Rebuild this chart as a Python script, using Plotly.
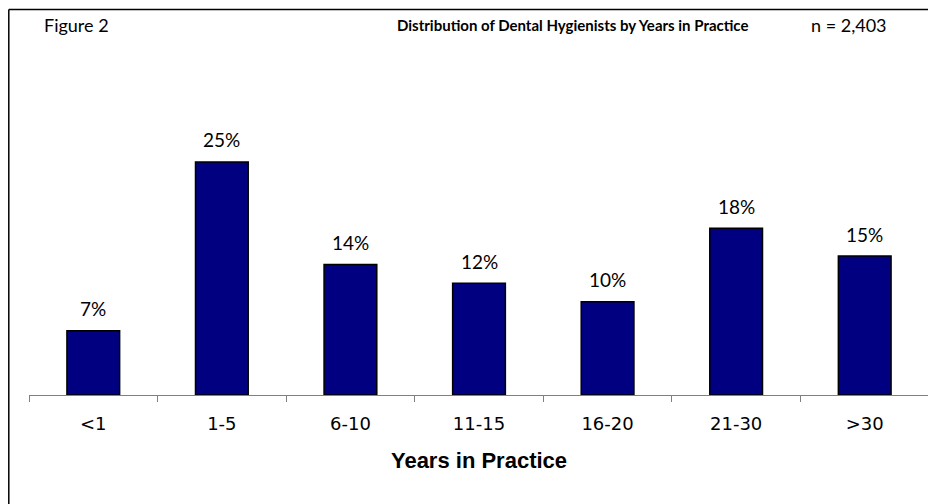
"""Distribution of dental hygienists by years in practice (Figure 2)."""
import plotly.graph_objects as go

categories = ["<1", "1-5", "6-10", "11-15", "16-20", "21-30", ">30"]
shares = [6.9, 25.0, 14.0, 12.0, 10.0, 17.9, 14.9]
labels = ["7%", "25%", "14%", "12%", "10%", "18%", "15%"]

BAR = "#000080"
OFF = 8  # page body margin: figure is drawn 8px in from the window corner
W, H = 936 - OFF, 504 - OFF
# plot area in figure pixels
L, R, B = 29 - OFF, 929 - OFF, 395 - OFF
YMAX = 28.0
PX_PER = 9.31
T = B - YMAX * PX_PER


def px_x(p):
    # window pixel -> paper coordinate
    return (p - OFF - L) / (R - L)


def px_y(p):
    return (B - (p - OFF)) / (B - T)


fig = go.Figure()
fig.add_bar(x=categories, y=shares, width=0.41,
            marker=dict(color=BAR, line=dict(color="black", width=1.5)),
            hoverinfo="skip")

for c, v, t in zip(categories, shares, labels):
    fig.add_annotation(x=c, y=v, text=t, showarrow=False, yshift=22,
                       font=dict(family="Lato, Noto Sans", size=19, color="black"))

# frame around the figure: only its left and top edges are in view
frame = dict(type="line", xref="paper", yref="paper", line=dict(color="black", width=1.5))
fig.add_shape(x0=px_x(8.8), x1=px_x(8.8), y0=px_y(520), y1=px_y(10), **frame)
fig.add_shape(x0=px_x(8.8), x1=px_x(950), y0=px_y(10), y1=px_y(10), **frame)

head = dict(xref="paper", yref="paper", y=px_y(25), yanchor="middle", showarrow=False)
fig.add_annotation(x=px_x(42), xanchor="left", text="Figure 2",
                   font=dict(family="Lato, Noto Sans", size=18, color="black"), **head)
fig.add_annotation(x=px_x(572), xanchor="center",
                   text="<b>Distribution of Dental Hygienists by Years in Practice</b>",
                   font=dict(family="Lato, Noto Sans", size=15, color="black"), **head)
fig.add_annotation(x=px_x(889), xanchor="right", text="n = 2,403",
                   font=dict(family="Lato, Noto Sans", size=18, color="black"), **head)

fig.update_layout(
    width=W, height=H, plot_bgcolor="white", paper_bgcolor="white",
    margin=dict(l=L, r=W - R, t=T, b=H - B, pad=0),
    showlegend=False, bargap=0.59,
)
fig.update_xaxes(showline=True, linecolor="#808080", linewidth=1, showgrid=False,
                 zeroline=False,
                 ticks="outside", tickson="boundaries", ticklen=6, tickcolor="#808080",
                 ticklabelstandoff=12,
                 tickfont=dict(family="DejaVu Sans", size=18, color="black"),
                 title=dict(text="<b>Years in Practice</b>", standoff=20,
                            font=dict(family="Liberation Sans", size=22, color="black")),
                 range=[-0.5, 6.5])
fig.update_yaxes(visible=False, showgrid=False, zeroline=False, range=[0, YMAX])

fig.write_html("out.html")
